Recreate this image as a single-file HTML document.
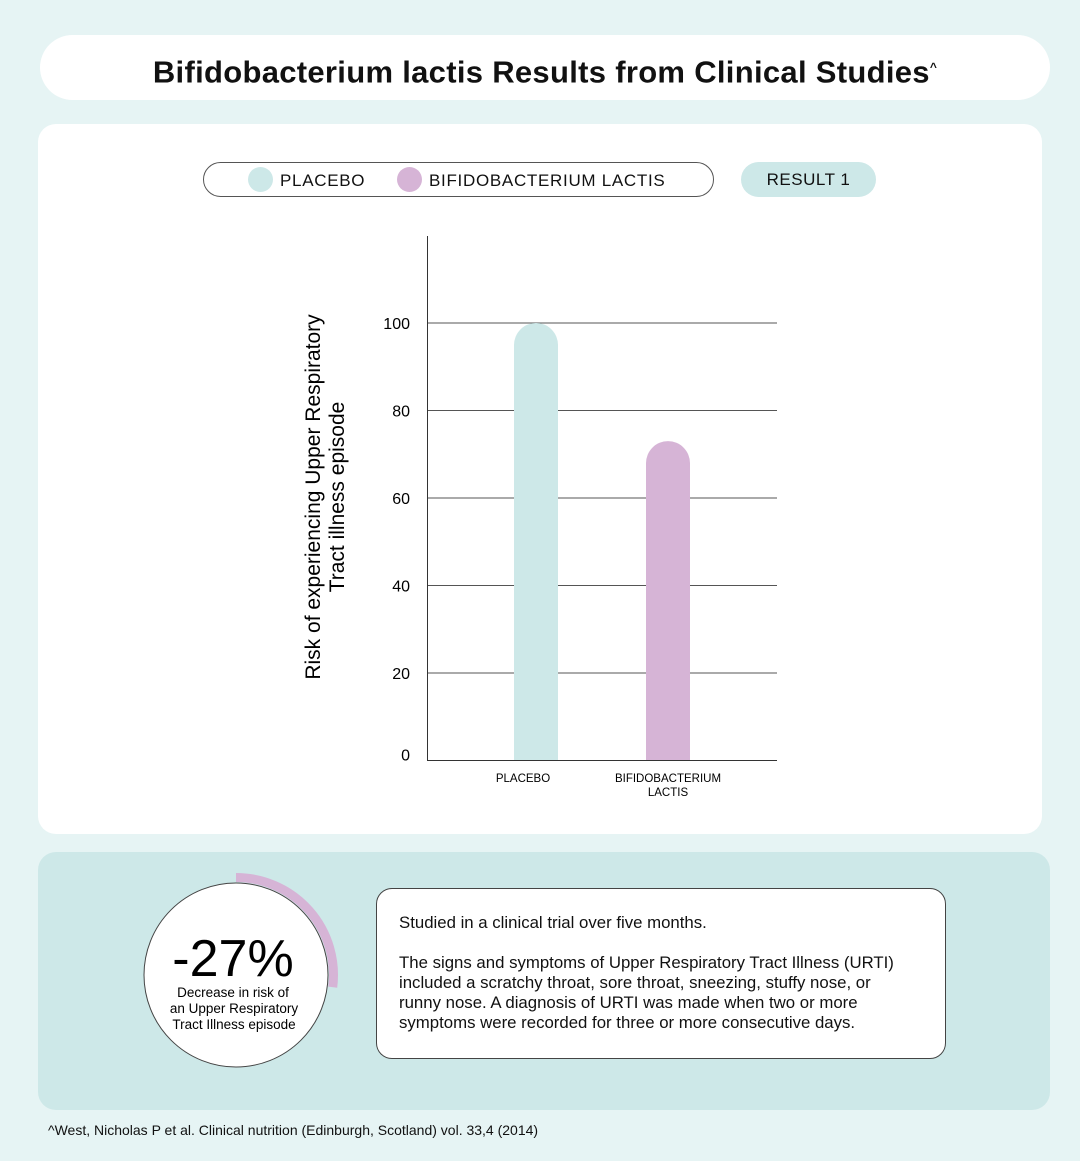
<!DOCTYPE html>
<html><head><meta charset="utf-8"><style>
body{margin:0;width:1080px;height:1161px;background:#e6f4f4;font-family:"Liberation Sans",sans-serif;position:relative;overflow:hidden;color:#111}
.abs{position:absolute}
</style></head><body>
<div class="abs" style="left:40px;top:35px;width:1010px;height:65px;background:#fff;border-radius:33px;text-align:center;line-height:65px;font-weight:bold;font-size:31px;letter-spacing:0.3px">Bifidobacterium lactis Results from Clinical Studies<sup style="font-size:12px">^</sup></div>
<div class="abs" style="left:38px;top:124px;width:1004px;height:710px;background:#fff;border-radius:18px"></div>
<div class="abs" style="left:203px;top:162px;width:509px;height:33px;border:1px solid #555;border-radius:18px;font-size:17px;letter-spacing:0.7px">
 <span class="abs" style="left:44px;top:4px;width:25px;height:25px;border-radius:50%;background:#cde8e8"></span>
 <span class="abs" style="left:76px;top:8px">PLACEBO</span>
 <span class="abs" style="left:193px;top:4px;width:25px;height:25px;border-radius:50%;background:#d6b4d6"></span>
 <span class="abs" style="left:225px;top:8px">BIFIDOBACTERIUM LACTIS</span>
</div>
<div class="abs" style="left:741px;top:162px;width:135px;height:35px;background:#cde8e8;border-radius:18px;text-align:center;line-height:35px;font-size:17px;letter-spacing:0.5px">RESULT 1</div>
<svg class="abs" style="left:0;top:0" width="1080" height="840">
 <g id="grid"></g><g id="bars"></g>
 <line x1="427.5" y1="236" x2="427.5" y2="761" stroke="#333"/>
 <line x1="427" y1="760.5" x2="777" y2="760.5" stroke="#333"/>
 <text transform="translate(320,497) rotate(-90)" text-anchor="middle" font-size="21"><tspan x="0" dy="0">Risk of experiencing Upper Respiratory</tspan><tspan x="0" dy="24">Tract illness episode</tspan></text>
</svg>
<div class="abs" style="left:38px;top:852px;width:1012px;height:258px;background:#cde8e8;border-radius:18px"></div>
<svg class="abs" style="left:0;top:840px" width="400" height="260">
 <circle cx="236" cy="135" r="92" fill="#fff" stroke="#444" stroke-width="1"/>
 <path id="arc" fill="none" stroke="#d6b4d6" stroke-width="9"/>
 <text x="233" y="136" text-anchor="middle" font-size="52">-27%</text>
 <text text-anchor="middle" font-size="13.5"><tspan x="233" y="157">Decrease in risk of</tspan><tspan x="234" y="173">an Upper Respiratory</tspan><tspan x="234" y="189">Tract Illness episode</tspan></text>
</svg>
<div class="abs" style="left:376px;top:888px;width:570px;height:171px;background:#fff;border:1px solid #444;border-radius:16px;box-sizing:border-box;padding:24px 10px 24px 22px;font-size:16.8px;line-height:20px;white-space:nowrap">Studied in a clinical trial over five months.<br><br>The signs and symptoms of Upper Respiratory Tract Illness (URTI)<br>included a scratchy throat, sore throat, sneezing, stuffy nose, or<br>runny nose. A diagnosis of URTI was made when two or more<br>symptoms were recorded for three or more consecutive days.</div>
<div class="abs" style="left:48px;top:1122px;font-size:14px">^West, Nicholas P et al. Clinical nutrition (Edinburgh, Scotland) vol. 33,4 (2014)</div>
<script>
const categories=["PLACEBO","BIFIDOBACTERIUM|LACTIS"];
const values=[100,73];
const colors=["#cde8e8","#d6b4d6"];
const ticks=[0,20,40,60,80,100];
const decrease=27;
const NS="http://www.w3.org/2000/svg";
const y=v=>760.5-v*4.375;
const xc=i=>536+i*132;
const g=document.getElementById('grid'),b=document.getElementById('bars');
function mk(t,a,p){const e=document.createElementNS(NS,t);for(const k in a)e.setAttribute(k,a[k]);p.appendChild(e);return e;}
ticks.forEach(t=>{
 if(t>0){const l=mk('line',{x1:427,x2:777,y1:y(t),y2:y(t),stroke:'#555','stroke-width':1},g);
 
 }
 const tx=mk('text',{x:410,y:y(t)+(t==0?0:6),'text-anchor':'end','font-size':16},g);tx.textContent=t;
 
 
});
values.forEach((v,i)=>{
 const w=44,x=xc(i)-w/2,top=y(v),bot=760;
 const p=mk('path',{d:`M${x},${bot}V${top+w/2}A${w/2},${w/2} 0 0 1 ${x+w},${top+w/2}V${bot}Z`,fill:colors[i]},b);
 
 
 const lines=categories[i].split('|');
 lines.forEach((s,j)=>{const t=mk('text',{x:xc(i)-(i?0:13),y:782+j*14,'text-anchor':'middle','font-size':11.5},b);t.textContent=s;
 
 });
});
const r=97.5,cx=236,cy=135,a=decrease/100*2*Math.PI;
document.getElementById('arc').setAttribute('d',`M${cx},${cy-r}A${r},${r} 0 ${a>Math.PI?1:0} 1 ${cx+r*Math.sin(a)},${cy-r*Math.cos(a)}`);
</script>
</body></html>
